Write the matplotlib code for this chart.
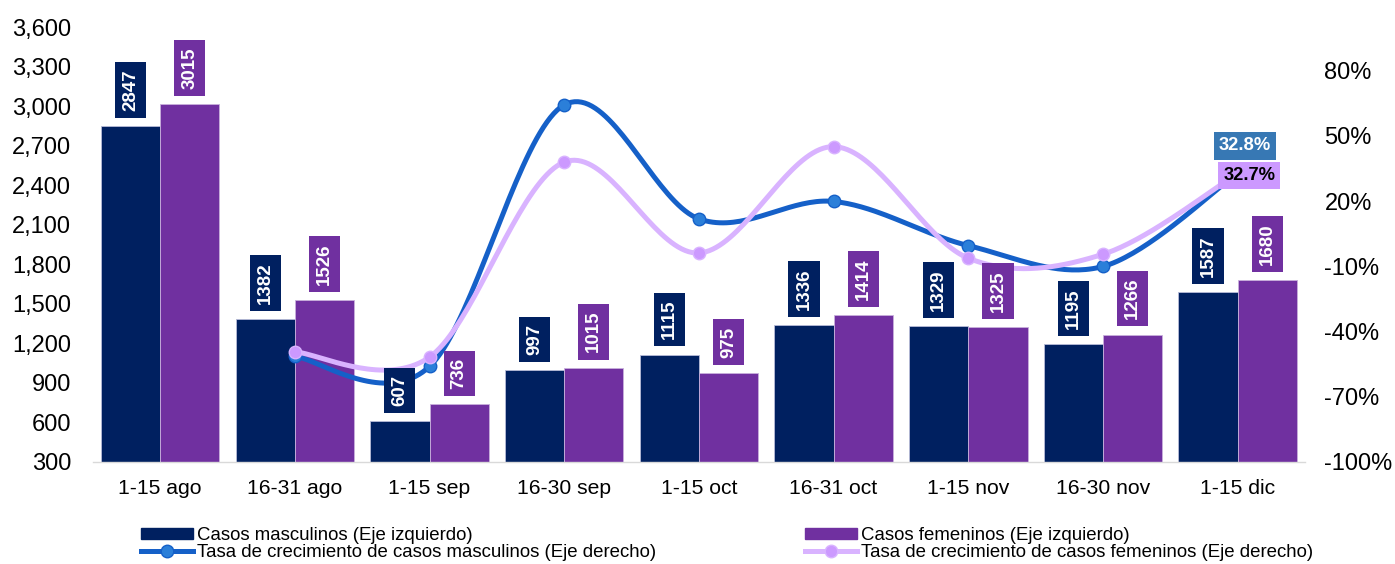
import matplotlib
matplotlib.use("Agg")
import matplotlib.pyplot as plt
import numpy as np
from matplotlib.lines import Line2D
from matplotlib.patches import Patch

plt.rcParams['font.family'] = ['Liberation Sans', 'DejaVu Sans']

categories = ['1-15 ago', '16-31 ago', '1-15 sep', '16-30 sep', '1-15 oct',
              '16-31 oct', '1-15 nov', '16-30 nov', '1-15 dic']
male_cases = [2847, 1382, 607, 997, 1115, 1336, 1329, 1195, 1587]
female_cases = [3015, 1526, 736, 1015, 975, 1414, 1325, 1266, 1680]
# growth rates (%) from the second period onwards
male_growth = [-51.5, -56.1, 64.2, 11.8, 19.8, -0.5, -10.1, 32.8]
female_growth = [-49.4, -51.8, 37.9, -3.9, 45.0, -6.3, -4.5, 32.7]

c_male = '#002060'
c_female = '#7030A0'
c_mline = '#1560C8'
c_mmark = '#2B7FD9'
c_fline = '#D9B3FF'
c_fmark = '#CC99FF'


def smooth(xs, ys, n=40):
    # Catmull-Rom, like Excel's smoothed line
    pts = np.column_stack([xs, ys]).astype(float)
    P = np.vstack([pts[0], pts, pts[-1]])
    t = np.linspace(0, 1, n)[:, None]
    out = []
    for i in range(1, len(P) - 2):
        p0, p1, p2, p3 = P[i - 1], P[i], P[i + 1], P[i + 2]
        seg = 0.5 * (2 * p1 + (-p0 + p2) * t + (2 * p0 - 5 * p1 + 4 * p2 - p3) * t ** 2
                     + (-p0 + 3 * p1 - 3 * p2 + p3) * t ** 3)
        out.append(seg)
    s = np.vstack(out)
    return s[:, 0], s[:, 1]


fig = plt.figure(figsize=(13.95, 5.64), dpi=100)
ax = fig.add_axes([0.0665, 0.181, 0.869, 0.771])
ax2 = ax.twinx()

x = np.arange(len(categories))
w = 0.44
ax.bar(x - w / 2, male_cases, w, color=c_male, edgecolor='#b8bcd8', linewidth=0.6)
ax.bar(x + w / 2, female_cases, w, color=c_female, edgecolor='#c8b0dc', linewidth=0.6)
ax.set_ylim(300, 3600)
ax.set_xlim(-0.5, len(categories) - 0.5)
ax.set_yticks(np.arange(300, 3601, 300))
ax.set_yticklabels(['{:,}'.format(v) for v in range(300, 3601, 300)], fontsize=17)
ax.set_xticks(x)
ax.set_xticklabels(categories, fontsize=15.2)
ax.tick_params(axis='y', length=0, pad=15.5)
ax.tick_params(axis='x', length=0, pad=12)

xg = x[1:]
mx, my = smooth(xg, male_growth)
fx, fy = smooth(xg, female_growth)
ax2.plot(mx, my, color=c_mline, lw=3.6, solid_capstyle='round', zorder=3)
ax2.plot(xg, male_growth, 'o', ms=9, mfc=c_mmark, mec=c_mline, mew=1, zorder=3)
ax2.plot(fx, fy, color=c_fline, lw=3.6, solid_capstyle='round', zorder=4)
ax2.plot(xg, female_growth, 'o', ms=9, mfc=c_fmark, mec=c_fline, mew=1, zorder=4)
ax2.set_ylim(-100, 100)
ax2.set_yticks(np.arange(-100, 81, 30))
ax2.set_yticklabels(['{}%'.format(v) for v in range(-100, 81, 30)], fontsize=17)
ax2.tick_params(axis='y', length=0, pad=14)

for a in (ax, ax2):
    for sp in a.spines.values():
        sp.set_visible(False)
ax.spines['bottom'].set_visible(True)
ax.spines['bottom'].set_color('#d9d9d9')
ax.spines['bottom'].set_linewidth(1)

# value labels on bars, drawn above the lines
for xs, vals, col in ((x - w / 2, male_cases, c_male), (x + w / 2, female_cases, c_female)):
    for xi, v in zip(xs, vals):
        ax2.annotate(str(v), xy=(xi, v), xycoords=ax.transData,
                     xytext=(0, 11), textcoords='offset points', rotation=90,
                     ha='center', va='bottom', color='white', fontsize=13.5,
                     fontweight='bold',
                     bbox=dict(boxstyle='square,pad=0.38', fc=col, ec='none'), zorder=10)

ax2.annotate('{}%'.format(male_growth[-1]), xy=(xg[-1], male_growth[-1]),
             xytext=(5.4, 19.6), textcoords='offset points', ha='center', va='center',
             color='white', fontsize=13.2, fontweight='bold',
             bbox=dict(boxstyle='square,pad=0.28', fc='#3778B4', ec='none'), zorder=11)
ax2.annotate('{}%'.format(female_growth[-1]), xy=(xg[-1], female_growth[-1]),
             xytext=(8.3, -1.6), textcoords='offset points', ha='center', va='center',
             color='black', fontsize=13.2, fontweight='bold',
             bbox=dict(boxstyle='square,pad=0.28', fc=c_fmark, ec='none'), zorder=12)

# legend
h = [Patch(color=c_male),
     Line2D([], [], color=c_mline, lw=3.6, marker='o', ms=9, mfc=c_mmark, mec=c_mline),
     Patch(color=c_female),
     Line2D([], [], color=c_fline, lw=3.6, marker='o', ms=9, mfc=c_fmark, mec=c_fline)]
labels = ['Casos masculinos (Eje izquierdo)',
          'Tasa de crecimiento de casos masculinos (Eje derecho)',
          'Casos femeninos (Eje izquierdo)',
          'Tasa de crecimiento de casos femeninos (Eje derecho)']
fig.legend(h, labels, ncol=2, loc='upper left', bbox_to_anchor=(141 / 1395, 1 - 527 / 564),
           frameon=False, fontsize=13.4, handlelength=2.8, handleheight=0.55,
           handletextpad=0.22, columnspacing=8.0, labelspacing=0.0,
           borderpad=0, borderaxespad=0)

fig.savefig('out.png', dpi=100)
